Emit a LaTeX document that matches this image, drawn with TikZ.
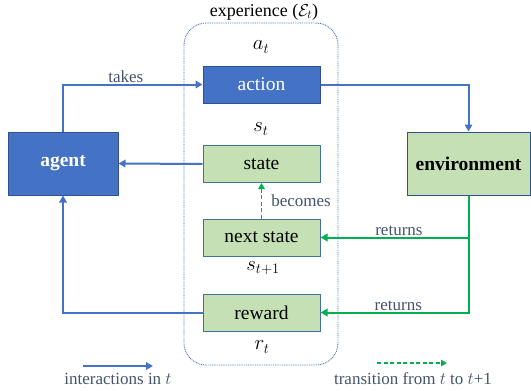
\documentclass[tikz,border=0pt]{standalone}
\usepackage{fontspec}
\setmainfont{Liberation Serif}
\usetikzlibrary{arrows.meta}

\definecolor{bluefill}{HTML}{4472C4}
\definecolor{blueedge}{HTML}{2F528F}
\definecolor{greenfill}{HTML}{C5E0B4}
\definecolor{greenedge}{HTML}{41719C}
\definecolor{flowgreen}{HTML}{00B050}
\definecolor{labelgray}{HTML}{44546A}

\tikzset{
  boxbase/.style={draw, line width=1pt, inner sep=0pt,
    font=\fontsize{19.5}{21}\selectfont},
  smallbox/.style={boxbase, minimum width=117pt, minimum height=37pt},
  bluebox/.style={smallbox, fill=bluefill, draw=blueedge, text=white},
  greenbox/.style={smallbox, fill=greenfill, draw=greenedge},
  bigbox/.style={boxbase, minimum height=63pt, font=\fontsize{19.5}{21}\selectfont\bfseries},
  varlabel/.style={font=\fontsize{21}{23}\selectfont},
  flowlabel/.style={text=labelgray, font=\fontsize{17}{19}\selectfont, inner sep=2pt},
  tip/.style={-{Triangle[length=7pt,width=7.5pt]}},
  blueflow/.style={draw=bluefill, line width=2pt, tip, color=bluefill},
  greenflow/.style={draw=flowgreen, line width=2pt, tip, color=flowgreen},
  greendash/.style={draw=flowgreen, line width=1.6pt, dash pattern=on 4pt off 2.5pt,
    -{Triangle[length=6pt,width=6.5pt]}, color=flowgreen},
  episode/.style={draw=bluefill, line width=0.9pt, dash pattern=on 0.9pt off 0.9pt,
    rounded corners=22pt}
}

\begin{document}
\begin{tikzpicture}[x=1pt, y=-1pt]
  \useasboundingbox (0,0) rectangle (531,391);

  % experience container
  \draw[episode] (184,23) rectangle (338,365);
  \node[font=\fontsize{18}{20}\selectfont, anchor=base, inner sep=0pt] (exptitle) at (264,16)
    {experience ($\mathcal{E}_t$)};

  % boxes
  \node[bluebox] (action) at (261.5,84.5) {action};
  \node[greenbox] (state) at (261.5,164) {state};
  \node[greenbox] (next) at (261.5,237.5) {next state};
  \node[greenbox] (reward) at (261.5,312.5) {reward};
  \node[bigbox, fill=bluefill, draw=blueedge, text=white, minimum width=110pt]
    (agent) at (63,163.5) {agent};
  \node[bigbox, fill=greenfill, draw=blueedge, minimum width=123pt]
    (env) at (468.5,163.5) {environment};

  % variable names
  \node[varlabel] (alab) at (261,47) {$a_t$};
  \node[varlabel] (slab) at (261,129) {$s_t$};
  \node[varlabel] (snlab) at (263,268) {$s_{t+1}$};
  \node[varlabel] (rlab) at (262,347) {$r_t$};

  % interactions within one step
  \draw[blueflow] (agent.north) |- (action.west)
    node[flowlabel, pos=0.725, above, yshift=-1pt] {takes};
  \draw[blueflow] (action.east) -| (env.north);
  \draw[blueflow] (state.west) -- (agent.east);
  \draw[blueflow] (reward.west) -| (agent.south);
  \draw[greenflow] (env.south) |- (reward.east)
    node[flowlabel, pos=0.737, above, yshift=-1pt] {returns};
  \coordinate (branch) at (env.south |- next.east);
  \draw[greenflow] (branch) -- (next.east)
    node[flowlabel, pos=0.47, above, yshift=-1pt] {returns};

  % transition to the next step
  \draw[greendash] (next.north) -- (state.south)
    node[flowlabel, midway, right, xshift=7pt] {becomes};

  % legend
  \coordinate (la1) at (83,366);
  \coordinate (la2) at (153,366);
  \draw[blueflow, line width=1.8pt] (la1) -- (la2);
  \node[flowlabel] (lt1) at (118,379) {interactions in $t$};
  \coordinate (lb1) at (377,363);
  \coordinate (lb2) at (447,363);
  \draw[greendash] (lb1) -- (lb2);
  \node[flowlabel] (lt2) at (413,379)
    {transition from $t$ to $t$+1};
\end{tikzpicture}
\end{document}
